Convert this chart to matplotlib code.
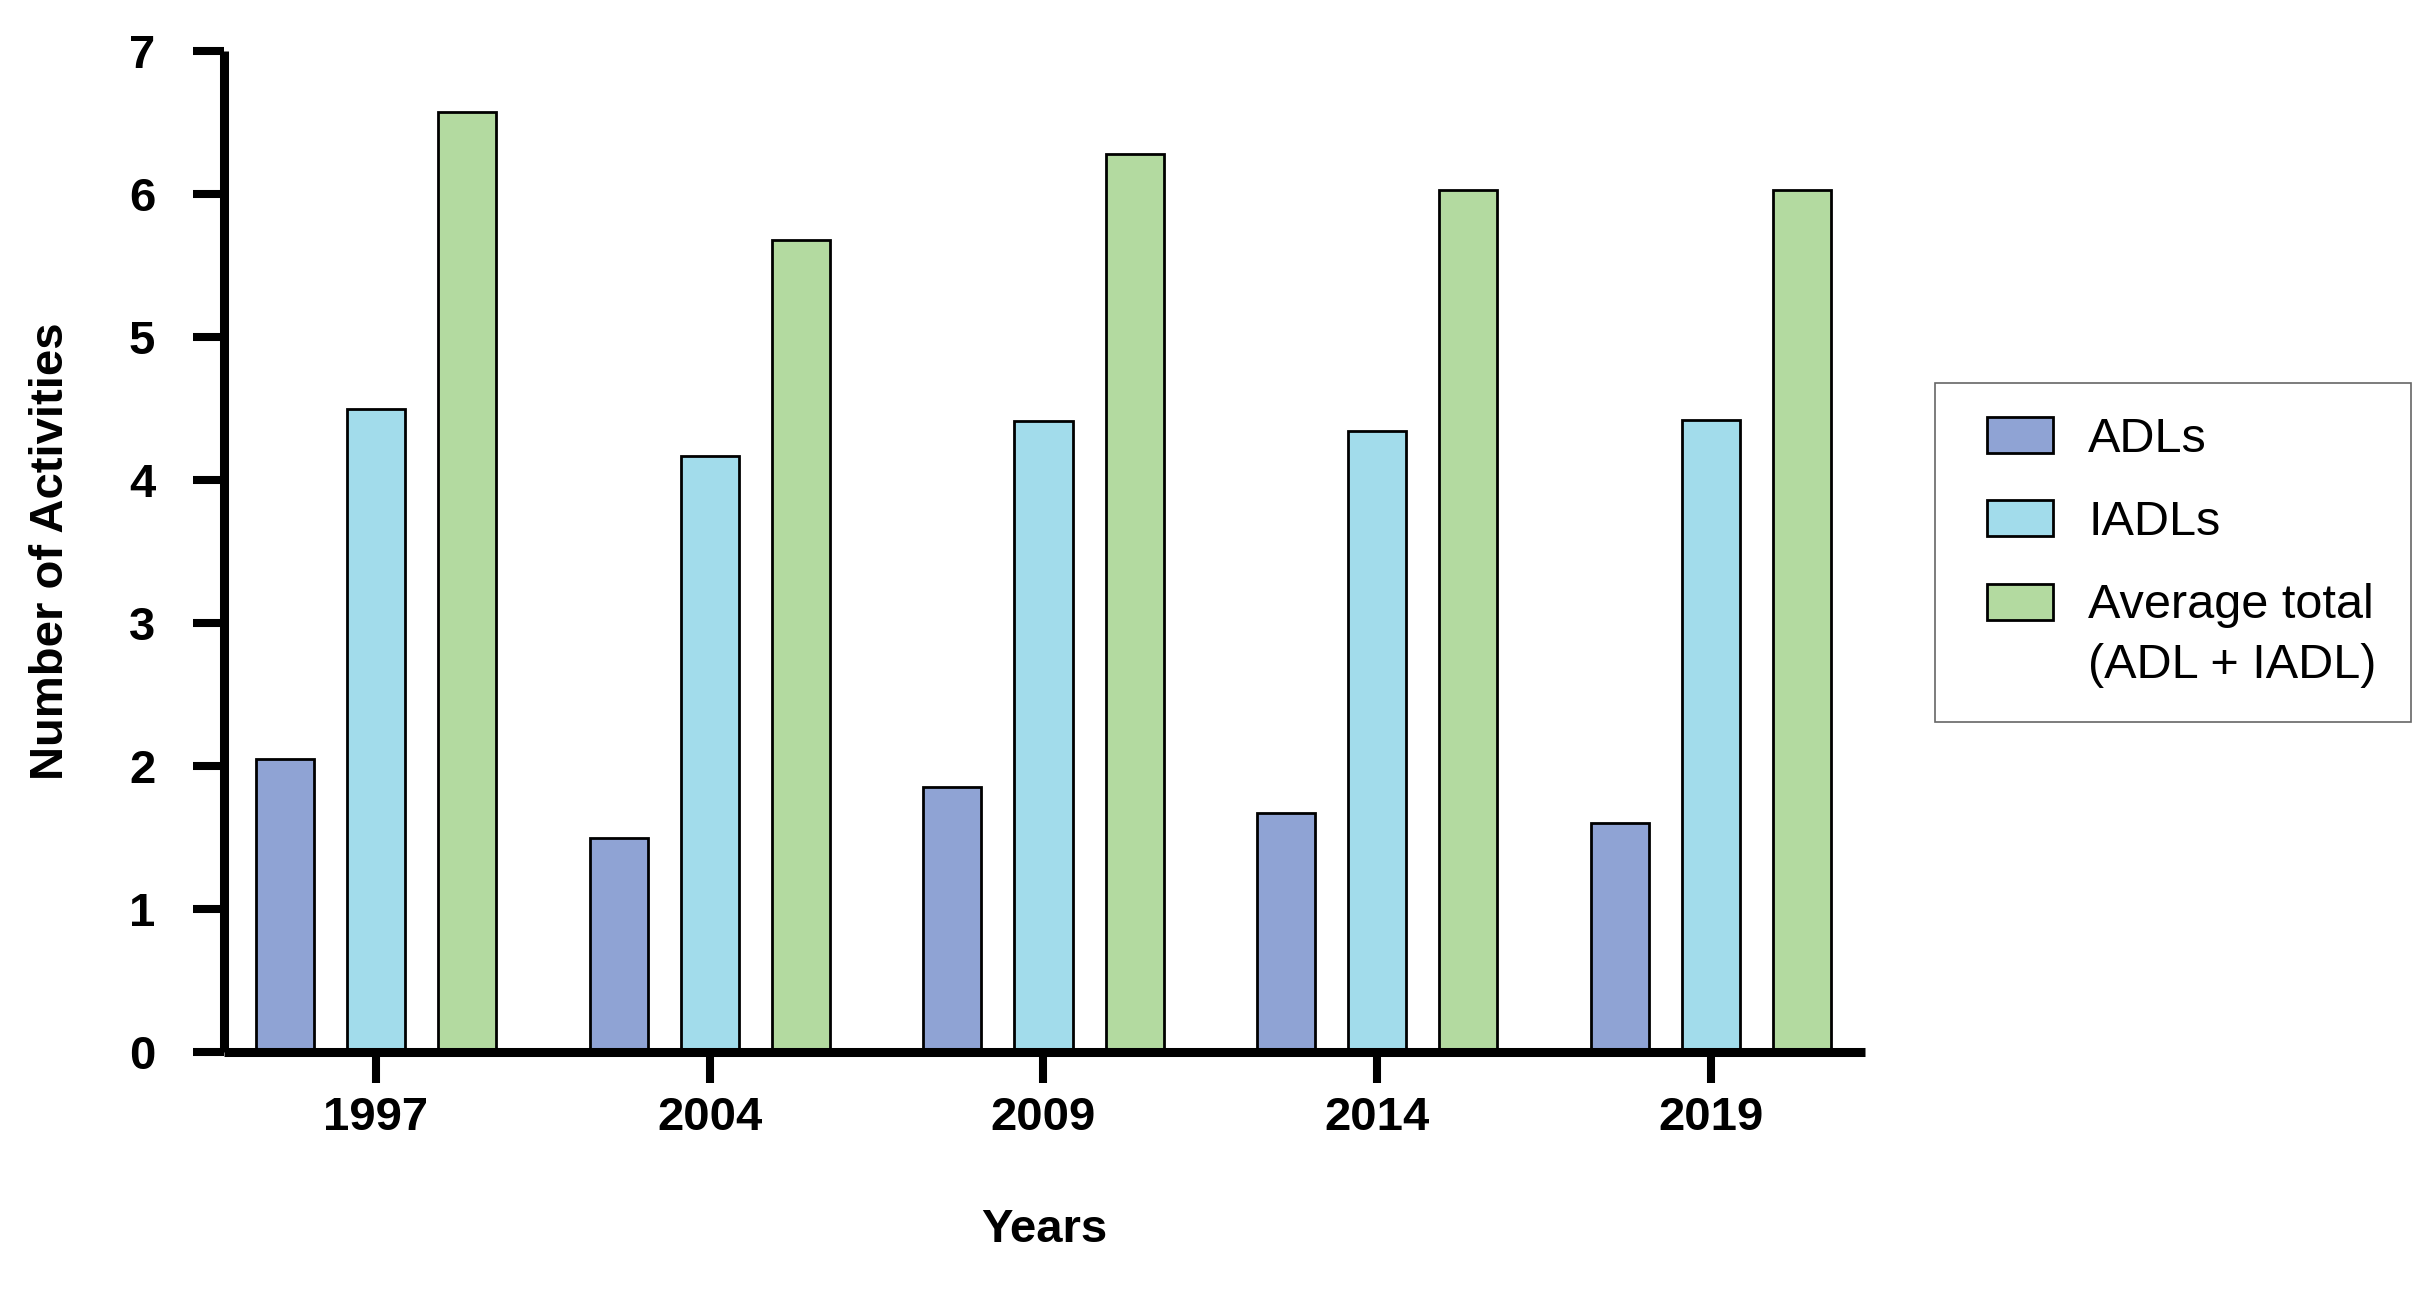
import matplotlib
matplotlib.use("Agg")
import matplotlib.pyplot as plt
from matplotlib.patches import Rectangle
from matplotlib.legend_handler import HandlerPatch
import numpy as np

years = ["1997", "2004", "2009", "2014", "2019"]
adls = [2.05, 1.50, 1.85, 1.67, 1.60]
iadls = [4.50, 4.17, 4.41, 4.34, 4.42]
totals = [6.57, 5.68, 6.28, 6.03, 6.03]
series_labels = ["ADLs", "IADLs", "Average total\n(ADL + IADL)"]
colors = ["#8FA3D4", "#A2DCEB", "#B3DAA0"]

plt.rcParams['font.family'] = ['Liberation Sans', 'DejaVu Sans']

W, H = 2421, 1310
fig = plt.figure(figsize=(W / 100, H / 100), dpi=100)
ax = fig.add_axes([224 / W, 1 - 1052 / H, (1865 - 224) / W, (1052 - 51) / H])

x = np.arange(len(years))
width = 0.174
offset = 0.273
handles = []
for i, (vals, lab, col) in enumerate(zip([adls, iadls, totals], series_labels, colors)):
    c = ax.bar(x + (i - 1) * offset, vals, width, color=col, edgecolor="black",
               linewidth=2.0, label=lab, zorder=2)
    handles.append(c.patches[0])

ax.set_xlim(-0.455, 4.461)
ax.set_ylim(0, 7)
ax.set_yticks(range(0, 8))
ax.set_xticks(x)
ax.set_xticklabels(years)

for s in ["top", "right"]:
    ax.spines[s].set_visible(False)
for s in ["left", "bottom"]:
    ax.spines[s].set_linewidth(6.5)
    ax.spines[s].set_capstyle("butt")

ax.tick_params(axis="both", width=5.8, length=22.5, direction="out",
               labelsize=34)
ax.tick_params(axis="y", pad=27)
ax.tick_params(axis="x", pad=9)
for lbl in ax.get_xticklabels() + ax.get_yticklabels():
    lbl.set_fontweight("bold")

ax.set_ylabel("Number of Activities", fontsize=34, fontweight="bold")
ax.yaxis.set_label_coords(-0.092, 0.5)
ax.set_xlabel("Years", fontsize=34, fontweight="bold")
ax.xaxis.set_label_coords(0.5, -0.156)

SHIFT_X = 13.0   # points
PATCH_W = 47.5   # points
PATCH_H = 26.0   # points


def make_patch(shift_y):
    def f(legend, orig_handle, xdescent, ydescent, width, height, fontsize):
        return Rectangle((-xdescent + SHIFT_X, -ydescent + (height - PATCH_H) / 2 + shift_y),
                         PATCH_W, PATCH_H)
    return f


handler_map = {
    handles[0]: HandlerPatch(patch_func=make_patch(0)),
    handles[1]: HandlerPatch(patch_func=make_patch(0)),
    handles[2]: HandlerPatch(patch_func=make_patch(24)),
}

leg = ax.legend(handles=handles, labels=series_labels, handler_map=handler_map,
                loc="upper left", bbox_to_anchor=(1935 / W, 1 - 383 / H),
                bbox_transform=fig.transFigure, fontsize=35, frameon=True,
                fancybox=False, borderaxespad=0, borderpad=0.7,
                handlelength=1.73, handleheight=0.74, handletextpad=0.72,
                labelspacing=0.78)
leg.get_frame().set_edgecolor("#404040")
leg.get_frame().set_linewidth(1.2)
for t in leg.get_texts():
    t.set_linespacing(1.42)

fig.savefig("out.png", dpi=100)
